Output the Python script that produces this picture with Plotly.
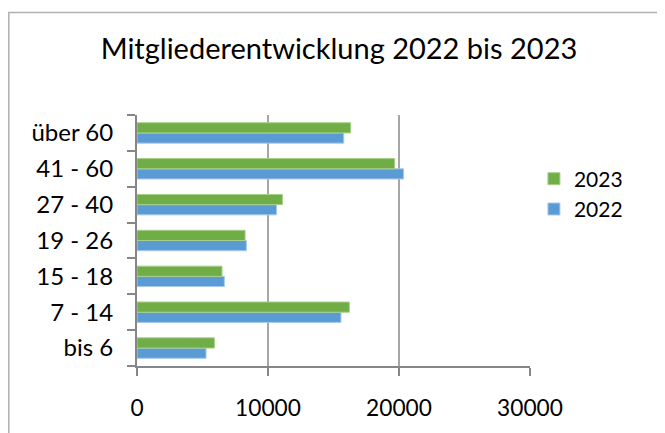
import plotly.graph_objects as go

categories = ["bis 6", "7 - 14", "15 - 18", "19 - 26", "27 - 40", "41 - 60", "über 60"]
values_2022 = [5270, 15570, 6670, 8350, 10650, 20350, 15780]
values_2023 = [5910, 16210, 6490, 8250, 11100, 19670, 16310]
x_ticks = [0, 10000, 20000, 30000]

FONT = "Lato, Carlito, Calibri, sans-serif"

# page body has an 8px margin; figure is sized so it fits the 665x433 window
W, H = 657, 425
L, T = 129, 107
R = W - 522
B = H - 367
PW, PH = W - L - R, H - T - B

fig = go.Figure()
fig.add_trace(go.Bar(
    y=categories, x=values_2022, name="2022", orientation="h",
    marker=dict(color="#5B9BD5", line=dict(color="#a9c8ec", width=1)),
))
fig.add_trace(go.Bar(
    y=categories, x=values_2023, name="2023", orientation="h",
    marker=dict(color="#70AD47", line=dict(color="#a6d08a", width=1)),
))

fig.update_layout(
    width=W, height=H,
    margin=dict(l=L, r=R, t=T, b=B),
    paper_bgcolor="white", plot_bgcolor="white",
    barmode="group", bargap=0.43, bargroupgap=0,
    font=dict(family=FONT, color="#000000", size=22),
    title=dict(text="Mitgliederentwicklung 2022 bis 2023", x=(339 - 8) / W, xanchor="center",
               xref="container",
               y=1 - 41 / H, yanchor="middle", font=dict(size=29, family=FONT)),
    legend=dict(x=1.01, xanchor="left", y=0.685, yanchor="middle",
                traceorder="reversed", font=dict(size=21, family=FONT),
                bgcolor="rgba(0,0,0,0)", itemwidth=30, tracegroupgap=0),
    showlegend=True,
)
fig.update_xaxes(
    range=[0, 30000], tickvals=x_ticks, ticktext=[str(v) for v in x_ticks],
    showgrid=True, gridcolor="#a6a6a6", gridwidth=1.5,
    showline=True, linecolor="#868686", linewidth=2,
    ticks="outside", ticklen=8, tickcolor="#868686", tickwidth=2,
    zeroline=False, tickfont=dict(size=22.7), ticklabelstandoff=13,
)
fig.update_yaxes(
    type="category", categoryorder="array", categoryarray=categories,
    showline=True, linecolor="#868686", linewidth=2,
    ticks="outside", ticklen=8, tickcolor="#868686", tickwidth=2,
    tickson="boundaries", showgrid=False, tickfont=dict(size=24),
    ticklabelstandoff=17,
)
fig.add_shape(type="rect", xref="paper", yref="paper",
              x0=(0.8 - L) / PW, x1=1.6, y0=-0.6, y1=(T + PH - 0.8) / PH,
              line=dict(color="#b0b0b0", width=1.5), fillcolor="rgba(0,0,0,0)", layer="below")

fig.write_html("out.html")
